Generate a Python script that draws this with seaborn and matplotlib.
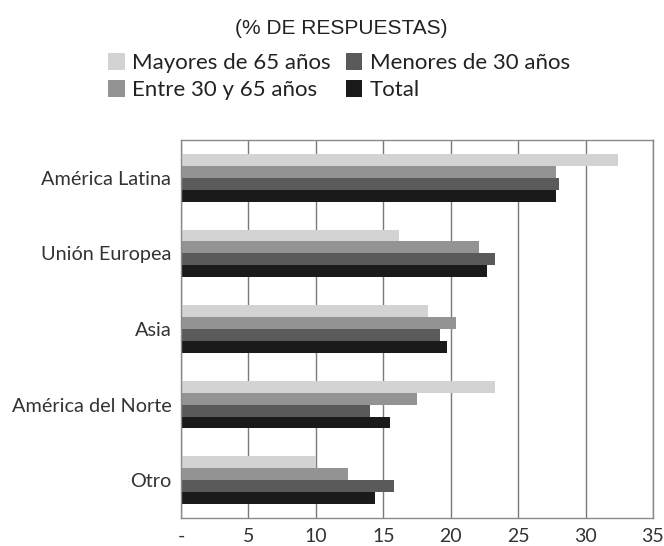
import matplotlib

matplotlib.use("Agg")
import matplotlib.pyplot as plt
import pandas as pd
import seaborn as sns
from matplotlib.patches import Patch

# 数据
regiones = ["América Latina", "Unión Europea", "Asia", "América del Norte", "Otro"]
grupos = ["Mayores de 65 años", "Entre 30 y 65 años", "Menores de 30 años", "Total"]
mayores_65 = [32.4, 16.2, 18.3, 23.3, 10.0]
entre_30_65 = [27.8, 22.1, 20.4, 17.5, 12.4]
menores_30 = [28.0, 23.3, 19.2, 14.0, 15.8]
total = [27.8, 22.7, 19.7, 15.5, 14.4]
colores = ["#d3d3d3", "#939393", "#5a5a5a", "#1a1a1a"]
x_ticks = [0, 5, 10, 15, 20, 25, 30, 35]
x_tick_labels = ["-", "5", "10", "15", "20", "25", "30", "35"]


def build_frame():
    rows = []
    for serie, valores in zip(grupos, [mayores_65, entre_30_65, menores_30, total]):
        for region, v in zip(regiones, valores):
            rows.append({"region": region, "grupo": serie, "valor": v})
    return pd.DataFrame(rows)


def main():
    data = build_frame()
    sns.set_theme(style="white")
    plt.rcParams["font.family"] = ["Lato", "DejaVu Sans"]

    fig = plt.figure(figsize=(6.64, 5.46), dpi=100)
    W, H = 664, 546
    ax = fig.add_axes([181 / W, 1 - 518 / H, (653 - 181) / W, (518 - 140) / H])

    sns.barplot(data=data, x="valor", y="region", hue="grupo", order=regiones,
                hue_order=grupos, palette=colores, width=0.63, linewidth=0,
                saturation=1, ax=ax, legend=False)

    ax.set_xlim(0, 35)
    ax.set_ylim(4.5, -0.5)
    ax.set_xticks(x_ticks)
    ax.set_xticklabels(x_tick_labels, fontsize=14, color="#333333")
    ax.tick_params(axis="y", labelsize=14.3, labelcolor="#333333", length=0, pad=7)
    ax.tick_params(axis="x", length=0, pad=7)
    ax.set_xlabel("")
    ax.set_ylabel("")
    ax.xaxis.grid(True, color="#7a7a7a", linewidth=1)
    ax.set_axisbelow(True)
    for s in ax.spines.values():
        s.set_visible(True)
        s.set_color("#8a8a8a")
        s.set_linewidth(1)

    # 标题
    fig.text(341 / W, 1 - 29 / H, "(% DE RESPUESTAS)", ha="center", va="center",
             fontsize=15, family=["Liberation Sans", "DejaVu Sans"], color="#222222")

    # 图例
    handles = [Patch(facecolor=c, edgecolor="none") for c in colores]
    fig.legend(handles, grupos, loc="center", bbox_to_anchor=(339 / W, 1 - 76.5 / H),
               ncol=2, frameon=False, fontsize=16, handlelength=0.75, handleheight=0.82,
               handletextpad=0.33, columnspacing=0.68, labelspacing=0.32, borderpad=0,
               labelcolor="#222222")

    fig.savefig("out.png", dpi=100)
    plt.close(fig)


if __name__ == "__main__":
    main()
